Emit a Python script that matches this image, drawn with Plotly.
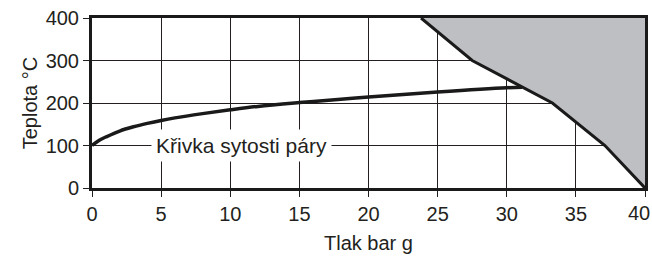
import plotly.graph_objects as go

# Saturation curve (pressure bar g -> temperature °C)
sat_pressure = [0, 0.5, 1, 2, 3, 4, 5, 6, 8, 10, 12, 15, 18, 20, 25, 30, 31.1]
sat_temp = [100, 112, 120, 134, 144, 152, 159, 165, 175, 184, 192, 201, 209, 214, 226, 236, 237]

# Limit boundary (shaded region edge)
limit_pressure = [23.8, 27.5, 33.3, 37.1, 40]
limit_temp = [400, 300, 200, 100, 0]

# Corner closing the shaded region
corner_pressure = [40]
corner_temp = [400]

x_ticks = [0, 5, 10, 15, 20, 25, 30, 35, 40]
y_ticks = [0, 100, 200, 300, 400]

label_text = "Křivka sytosti páry"
label_pos = (10.8, 100)

FONT = "Liberation Sans, Arial, sans-serif"
TXT = "#231f20"

# last x tick label is drawn as an annotation, right-aligned, so it stays inside the page
x_ticktext = [str(v) for v in x_ticks]
last_tick_label = x_ticktext[-1]
x_ticktext[-1] = ""

fig = go.Figure()

fig.add_trace(go.Scatter(
    x=limit_pressure + corner_pressure,
    y=limit_temp + corner_temp,
    fill="toself", fillcolor="#BEBFC3",
    line=dict(width=0), mode="lines", hoverinfo="skip", showlegend=False))

fig.add_trace(go.Scatter(
    x=limit_pressure, y=limit_temp, mode="lines",
    line=dict(color="#1a1a1a", width=3), showlegend=False))

fig.add_trace(go.Scatter(
    x=sat_pressure, y=sat_temp, mode="lines",
    line=dict(color="#1a1a1a", width=3.5, shape="spline"), showlegend=False))

fig.add_annotation(
    x=label_pos[0], y=label_pos[1], text=label_text, showarrow=False,
    font=dict(family=FONT, size=21, color=TXT),
    bgcolor="white", borderpad=4, xanchor="center", yanchor="middle")

fig.add_annotation(
    x=x_ticks[-1], xref="x", y=0, yref="paper", text=last_tick_label, showarrow=False,
    font=dict(family=FONT, size=20, color=TXT),
    xanchor="right", yanchor="middle", xshift=6, yshift=-25, borderpad=0)

axis_common = dict(
    showline=True, linecolor="#1a1a1a", linewidth=3, mirror=True,
    showgrid=True, gridcolor=TXT, gridwidth=1,
    ticks="outside", ticklen=6, tickcolor=TXT, tickwidth=1,
    tickfont=dict(family=FONT, size=20, color=TXT),
    ticklabeloverflow="allow", automargin=False,
    zeroline=False, layer="above traces")

fig.update_xaxes(range=[0, 40], tickvals=x_ticks, ticktext=x_ticktext,
                 title=dict(text="Tlak bar g", font=dict(family=FONT, size=20, color=TXT), standoff=12),
                 **axis_common)
fig.update_yaxes(range=[0, 400], tickvals=y_ticks,
                 title=dict(text="Teplota °C", font=dict(family=FONT, size=20, color=TXT), standoff=3),
                 **axis_common)

fig.update_layout(
    width=652, height=257,
    margin=dict(l=92, r=7, t=18, b=69),
    plot_bgcolor="white", paper_bgcolor="white",
    font=dict(family=FONT))

fig.write_html("out.html", config={"displayModeBar": False},
               post_script="document.body.style.margin='0';")
